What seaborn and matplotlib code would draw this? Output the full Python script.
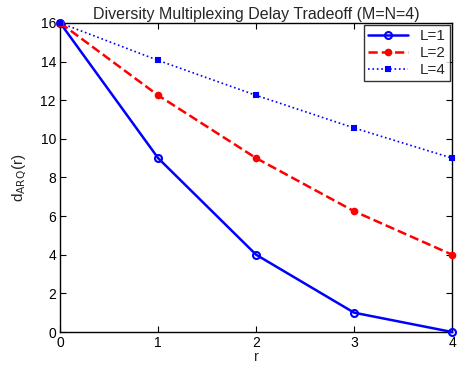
import numpy as np
import pandas as pd
import matplotlib
matplotlib.use("Agg")
import matplotlib.pyplot as plt
import seaborn as sns

r = [0, 1, 2, 3, 4]
d_L1 = [16, 9, 4, 1, 0]
d_L2 = [16, 12.25, 9, 6.25, 4]
d_L4 = [16, 14.06, 12.25, 10.56, 9]

sns.set_style("white")
plt.rcParams["font.family"] = ["Liberation Sans", "DejaVu Sans"]

fig = plt.figure(figsize=(4.59, 3.72), dpi=100)
ax = fig.add_axes([0.131, 0.1075, 0.854, 0.831])

series = [
    ("L=1", d_L1, "-", "o", 1.8, 5, "none"),
    ("L=2", d_L2, "--", ".", 1.8, 8, "red"),
    ("L=4", d_L4, ":", "s", 1.2, 3, "blue"),
]
colors = {"L=1": "blue", "L=2": "red", "L=4": "blue"}

for name, vals, ls, mk, lw, ms, mfc in series:
    df = pd.DataFrame({"r": r, "d": vals})
    sns.lineplot(data=df, x="r", y="d", ax=ax, color=colors[name],
                 linestyle=ls, marker=mk, linewidth=lw, markersize=ms,
                 markerfacecolor=mfc, markeredgecolor=colors[name],
                 markeredgewidth=1.5, label=name, clip_on=False, zorder=3)

ax.set_xlim(0, 4)
ax.set_ylim(0, 16)
ax.set_xticks([0, 1, 2, 3, 4])
ax.set_yticks(np.arange(0, 17, 2))
ax.tick_params(direction="in", length=4, labelsize=10, colors="black",
               top=True, right=True, bottom=True, left=True, pad=3)
for s in ax.spines.values():
    s.set_color("black")
    s.set_linewidth(1.0)

ax.set_title("Diversity Multiplexing Delay Tradeoff (M=N=4)", fontsize=11.5, pad=3)
ax.set_xlabel("r", fontsize=10.5, labelpad=0)
ax.set_ylabel(r"d$_{\mathrm{ARQ}}$(r)", fontsize=11, labelpad=8)

leg = ax.legend(loc="upper right", fontsize=11, frameon=True, fancybox=False,
                edgecolor="black", handlelength=2.6, borderpad=0.25,
                labelspacing=0.2, borderaxespad=0.15, handletextpad=0.8)
leg.get_frame().set_linewidth(1.0)

fig.savefig("out.png", dpi=100)
